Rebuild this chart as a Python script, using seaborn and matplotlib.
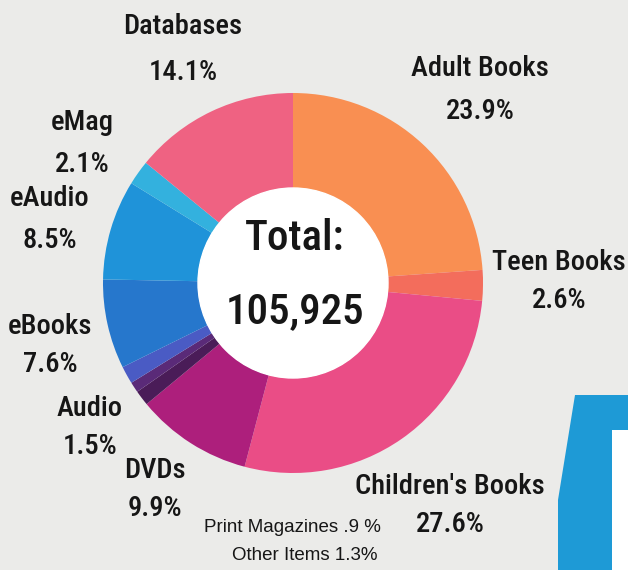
import os
import numpy as np
import seaborn as sns
import matplotlib.pyplot as plt
from matplotlib import font_manager
from matplotlib.patches import Polygon, Rectangle

# slice data, clockwise from 12 o'clock
categories = ['Adult Books', 'Teen Books', "Children's Books", 'DVDs',
              'Other Items', 'Print Magazines', 'Audio', 'eBooks',
              'eAudio', 'eMag', 'Databases']
shares = [23.9, 2.6, 27.6, 9.9, 1.3, 0.9, 1.5, 7.6, 8.5, 2.1, 14.1]
colors = ['#f98f52', '#f36d5c', '#ea4d86', '#ad1f7c',
          '#4a1c58', '#5a2a78', '#4a5bc4', '#2677cc',
          '#1f93d9', '#33b1de', '#ef6282']
total_label = '105,925'

sns.set_theme(style='white')
plt.rcParams['font.family'] = ['DejaVu Sans']

# look for a narrow face for the big labels
wanted = ['RobotoCondensed-Medium', 'RobotoCondensed-Regular', 'RobotoCondensed[',
          'LiberationSansNarrow-Regular', 'DejaVuSansCondensed.ttf']
files = [f.fname for f in font_manager.fontManager.ttflist]
narrow = None
for w in wanted:
    hits = [f for f in files if w in os.path.basename(f)]
    if hits:
        narrow = font_manager.FontProperties(fname=hits[0])
        break
if narrow is None:
    narrow = font_manager.FontProperties(family='DejaVu Sans', stretch='condensed')

bg = '#ebebe9'
fig = plt.figure(figsize=(6.28, 5.70), dpi=100, facecolor=bg)

# decorative blue tab at bottom right
fig.patches.append(Polygon([[575/628, 1-395/570], [640/628, 1-395/570],
                            [640/628, 0], [558/628, 0], [558/628, 1-500/570]],
                           closed=True, transform=fig.transFigure,
                           facecolor='#1e9ad6', edgecolor='none', zorder=0))
fig.patches.append(Rectangle((612/628, 0), 20/628, 1-430/570,
                             transform=fig.transFigure, facecolor='white',
                             edgecolor='none', zorder=0))

cx, cy, r = 293, 283, 190
ax = fig.add_axes([(cx - r)/628, (570 - cy - r)/570, 2*r/628, 2*r/570])
ax.pie(shares, colors=colors, startangle=90, counterclock=False,
       wedgeprops=dict(width=0.5, edgecolor='none'))
ax.add_patch(plt.Circle((0, 0), 0.5, color='white', zorder=3))
ax.set_xlim(-1, 1)
ax.set_ylim(-1, 1)
ax.set_aspect('equal')
ax.axis('off')


def lab(x, y, s, size=20.5, fp=narrow):
    p = fp.copy()
    p.set_size(size)
    fig.text(x/628, 1 - y/570, s, fontproperties=p, ha='center', va='center',
             color='#161616')


def lab2(x, y1, y2, name, pct):
    lab(x, y1, name)
    lab(x, y2, pct)


lab2(183, 27, 73, 'Databases', '14.1%')
lab2(480, 68, 112, 'Adult Books', '23.9%')
lab2(82, 122, 164, 'eMag', '2.1%')
lab2(50, 198, 240, 'eAudio', '8.5%')
lab2(559, 262, 300, 'Teen Books', '2.6%')
lab2(50, 326, 365, 'eBooks', '7.6%')
lab2(90, 408, 447, 'Audio', '1.5%')
lab2(155, 470, 508, 'DVDs', '9.9%')
lab2(450, 487, 525, "Children's Books", '27.6%')
lab(295, 238, 'Total:', size=31)
lab(295, 312, total_label, size=31)
small = font_manager.FontProperties(family='Liberation Sans')
lab(292, 528, 'Print Magazines .9 %', size=13.5, fp=small)
lab(305, 555, 'Other Items 1.3%', size=13.5, fp=small)

fig.savefig('out.png', dpi=100, facecolor=bg)
